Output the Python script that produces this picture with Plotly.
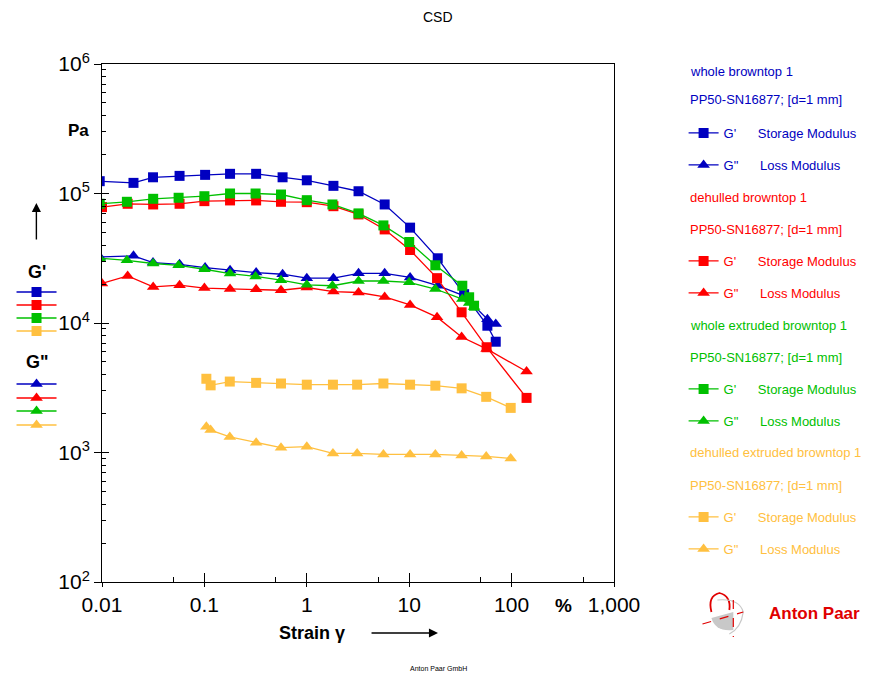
import plotly.graph_objects as go

# ---------------- data ----------------
blue_x = [0.0095, 0.0203, 0.0315, 0.0572, 0.1016, 0.178, 0.32, 0.58, 1.0, 1.82, 3.2, 5.76, 10.2, 19.0, 34.4, 58, 70]
blue_Gp = [124500, 120800, 133400, 136800, 139300, 141900, 141900, 133400, 126500, 114600, 104100, 82300, 54500, 31600, 16700, 9530, 7170]
blue_Gpp = [32400, 33000, 29300, 28400, 26800, 25600, 24500, 23800, 22200, 22200, 24200, 24200, 22500, 19400, 16200, 10700, 9830]

red_x = [0.01, 0.0178, 0.0316, 0.0572, 0.1, 0.178, 0.32, 0.56, 1.0, 1.82, 3.2, 5.76, 10.2, 18.7, 32.5, 57, 140]
red_Gp = [78500, 83300, 82300, 83300, 87300, 88400, 88400, 86300, 85700, 79800, 68900, 52800, 36600, 22200, 12100, 6500, 2640]
red_Gpp = [20200, 23100, 19000, 19600, 18600, 18300, 18200, 17900, 18800, 17500, 17200, 15900, 13800, 11100, 7800, 6310, 4220]

green_x = [0.0095, 0.0175, 0.0316, 0.056, 0.1, 0.178, 0.316, 0.56, 1.0, 1.78, 3.2, 5.6, 10, 18, 33, 38.5, 43]
green_Gp = [83300, 86300, 91000, 92700, 95300, 100000, 100000, 98200, 88800, 82300, 70200, 56700, 42200, 27900, 19400, 15800, 13600]
green_Gpp = [31600, 30500, 28800, 27900, 26000, 24100, 22900, 21400, 19700, 19400, 21100, 21100, 20600, 18300, 15300, 14300, 13300]

orange_x = [0.1045, 0.115, 0.177, 0.32, 0.56, 1.0, 1.8, 3.1, 5.6, 10.2, 18, 32.5, 56.5, 98]
orange_Gp = [3710, 3300, 3530, 3450, 3410, 3340, 3340, 3340, 3410, 3340, 3280, 3130, 2690, 2210]
orange_Gpp = [1580, 1490, 1320, 1190, 1090, 1110, 983, 983, 966, 966, 966, 950, 932, 900]

sample_names = ["whole browntop 1", "dehulled browntop 1",
                "whole extruded browntop 1", "dehulled extruded browntop 1"]
geometry = "PP50-SN16877; [d=1 mm]"
x_tick_vals = [0.01, 0.1, 1, 10, 100, 1000]
x_tick_text = ["0.01", "0.1", "1", "10", "100", "1,000"]
y_tick_vals = [1e2, 1e3, 1e4, 1e5, 1e6]
y_tick_text = ["10<sup>2</sup>", "10<sup>3</sup>", "10<sup>4</sup>", "10<sup>5</sup>", "10<sup>6</sup>"]

colors = ["#0000C0", "#FF0000", "#00C000", "#FFC040"]
FONT = "Arial, Liberation Sans, sans-serif"

# plot area in pixels: x 99..614, y 64..582
L, R, T, B = 99, 614, 64, 582
def px(x):
    return (x - L) / (R - L)
def py(y):
    return (B - y) / (B - T)

series = [
    (blue_x, blue_Gp, blue_Gpp),
    (red_x, red_Gp, red_Gpp),
    (green_x, green_Gp, green_Gpp),
    (orange_x, orange_Gp, orange_Gpp),
]

fig = go.Figure()

SP = "\u00a0" * 6
right_item_y = [(133, 165), (261, 293), (389, 421), (517, 549)]
legend_layouts = {}
n = 1
for i, (xs, gp, gpp) in enumerate(series):
    c = colors[i]
    for j, (vals, sym, label) in enumerate([(gp, "square", "G'" + SP + "Storage Modulus"),
                                            (gpp, "triangle-up", 'G"' + SP + "Loss Modulus")]):
        lname = "legend" if n == 1 else f"legend{n}"
        fig.add_trace(go.Scatter(
            x=xs, y=vals, mode="lines+markers", name=label,
            line=dict(color=c, width=1.3),
            marker=dict(symbol=sym, size=10 if sym == "square" else 11, color=c),
            legend=lname, showlegend=True))
        legend_layouts[lname] = dict(
            x=px(684), xanchor="left", y=py(right_item_y[i][j]), yanchor="middle",
            bgcolor="rgba(0,0,0,0)", borderwidth=0, itemwidth=30,
            font=dict(family=FONT, size=13, color=c))
        n += 1

# left-hand key (empty dummy traces, legend only)
left_y = [[292, 305, 318, 331], [384, 398, 411, 425]]
for g, sym in enumerate(["square", "triangle-up"]):
    for i, c in enumerate(colors):
        lname = f"legend{n}"
        fig.add_trace(go.Scatter(
            x=[None], y=[None], mode="lines+markers", name=" ",
            line=dict(color=c, width=1.3),
            marker=dict(symbol=sym, size=10 if sym == "square" else 11, color=c),
            legend=lname, showlegend=True, hoverinfo="skip"))
        legend_layouts[lname] = dict(
            x=px(8), xanchor="left", y=py(left_y[g][i]), yanchor="middle",
            bgcolor="rgba(0,0,0,0)", borderwidth=0, itemwidth=40,
            font=dict(family=FONT, size=10, color="black"))
        n += 1

# dummy trace on overlay axes (for inner tick marks)
fig.add_trace(go.Scatter(x=[None], y=[None], xaxis="x2", yaxis="y2",
                         showlegend=False, hoverinfo="skip"))

y_minor = [m * 10 ** e for e in range(2, 6) for m in range(2, 10)]
x_minor = [0.05, 0.5, 5, 50, 500]

fig.update_layout(
    width=875, height=677,
    margin=dict(l=L, r=875 - R, t=T, b=677 - B),
    paper_bgcolor="white", plot_bgcolor="white",
    font=dict(family=FONT, color="black"),
    xaxis=dict(type="log", range=[-2, 3], showgrid=False, zeroline=False,
               showline=True, linecolor="black", linewidth=1, mirror=True,
               ticks="outside", ticklen=4, tickcolor="black",
               tickvals=x_tick_vals, ticktext=x_tick_text,
               tickfont=dict(family=FONT, size=21, color="black")),
    yaxis=dict(type="log", range=[2, 6], showgrid=False, zeroline=False,
               showline=True, linecolor="black", linewidth=1, mirror=True,
               ticks="outside", ticklen=7, tickcolor="black",
               tickvals=y_tick_vals, ticktext=y_tick_text,
               tickfont=dict(family=FONT, size=21, color="black")),
    xaxis2=dict(type="log", range=[-2, 3], overlaying="x", anchor="y2", side="bottom",
                showgrid=False, zeroline=False, showline=False, showticklabels=False,
                ticks="inside", ticklen=9, tickcolor="black", tickvals=x_tick_vals,
                minor=dict(ticks="inside", ticklen=5, tickcolor="black", tickvals=x_minor, showgrid=False)),
    yaxis2=dict(type="log", range=[2, 6], overlaying="y", anchor="x2", side="left",
                showgrid=False, zeroline=False, showline=False, showticklabels=False,
                ticks="inside", ticklen=7, tickcolor="black", tickvals=y_tick_vals,
                minor=dict(ticks="inside", ticklen=4, tickcolor="black", tickvals=y_minor, showgrid=False)),
    **legend_layouts,
)

ann = []
def text(x, y, s, size, color="black", xanchor="center", bold=False):
    ann.append(dict(x=x, y=y, xref="paper", yref="paper", showarrow=False,
                    text=f"<b>{s}</b>" if bold else s, xanchor=xanchor, yanchor="middle",
                    font=dict(family=FONT, size=size, color=color)))

text(px(437), py(17), "CSD", 14)
text(px(75), py(130), "Pa", 17, bold=True)
text(px(34), py(272), "G'", 18, bold=True)
text(px(34), py(362), 'G"', 18, bold=True)
text(px(310), py(633), "Strain γ", 18, bold=True)
text(px(563), py(605), "%", 19, bold=True)
text(px(437), py(668), "Anton Paar GmbH", 7)
text(px(816), py(613), "Anton Paar", 17, color="#E00000", bold=True)

header_y = [(72, 100), (197, 229), (325, 357), (453, 485)]
for i, c in enumerate(colors):
    text(px(688), py(header_y[i][0]), sample_names[i], 13, color=c, xanchor="left")
    text(px(688), py(header_y[i][1]), geometry, 13, color=c, xanchor="left")

# arrows
ann.append(dict(x=px(33), y=py(203), xref="paper", yref="paper", ax=0, ay=38,
                showarrow=True, arrowhead=2, arrowsize=1.3, arrowwidth=1.4,
                arrowcolor="black", text=""))
ann.append(dict(x=px(437), y=py(633), xref="paper", yref="paper", ax=-68, ay=0,
                showarrow=True, arrowhead=2, arrowsize=1.3, arrowwidth=1.4,
                arrowcolor="black", text=""))
fig.update_layout(annotations=ann)

# simple logo mark
fig.add_shape(type="path", xref="paper", yref="paper",
              path=(f"M {px(712)},{py(618)} L {px(734)},{py(612)} L {px(734)},{py(630)} "
                    f"Q {px(716)},{py(632)} {px(712)},{py(618)} Z"),
              fillcolor="#C8C8C8", line=dict(width=0), layer="above")
fig.add_shape(type="path", xref="paper", yref="paper",
              path=(f"M {px(712)},{py(612)} Q {px(708)},{py(596)} {px(720)},{py(593)} "
                    f"Q {px(732)},{py(596)} {px(730)},{py(610)}"),
              line=dict(color="#E00000", width=1.8), layer="above")
fig.add_shape(type="path", xref="paper", yref="paper",
              path=(f"M {px(718)},{py(600)} Q {px(740)},{py(598)} {px(744)},{py(612)} "
                    f"Q {px(742)},{py(628)} {px(730)},{py(634)}"),
              line=dict(color="#C8C8C8", width=1.2), layer="above")
fig.add_shape(type="line", xref="paper", yref="paper",
              x0=px(703), x1=px(744), y0=py(624), y1=py(612),
              line=dict(color="#E00000", width=1.2, dash="dash"), layer="above")
fig.add_shape(type="line", xref="paper", yref="paper",
              x0=px(734), x1=px(734), y0=py(600), y1=py(637),
              line=dict(color="#E00000", width=1.2, dash="dash"), layer="above")

fig.write_html("out.html", post_script="document.body.style.margin='0px';",
               config={"displayModeBar": False})
